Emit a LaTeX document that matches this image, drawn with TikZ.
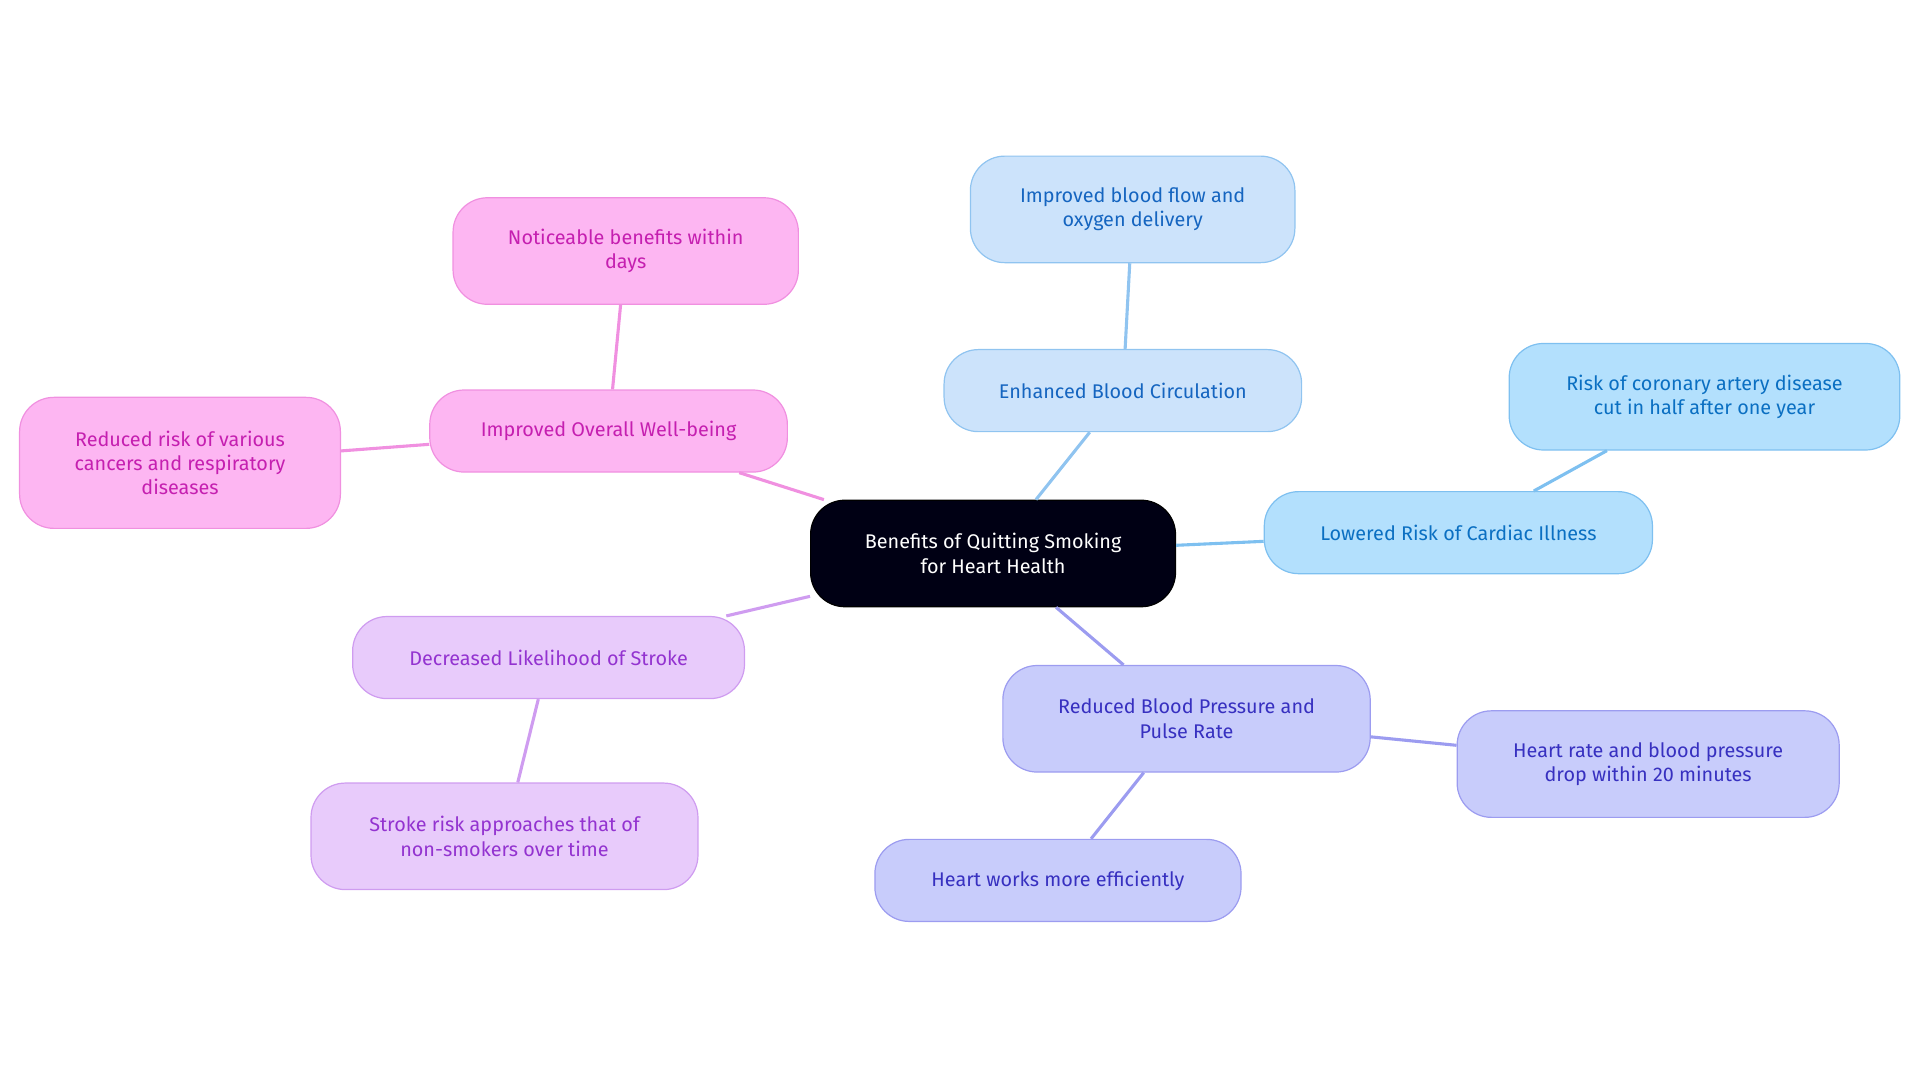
\documentclass[tikz,border=0pt]{standalone}
\usepackage{fontspec}
\setmainfont{Fira Sans}
\begin{document}
\begin{tikzpicture}[x=0.025cm,y=-0.025cm,
  box/.style={rounded corners=0.7cm,draw,line width=0.7pt,align=center,inner sep=0pt,font=\fontsize{11.5}{14.2}\selectfont},
  blueA/.style={box,fill=blueAf,draw=blueAd,text=blueAt},
  blueB/.style={box,fill=blueBf,draw=blueBd,text=blueBt},
  indi/.style={box,fill=indf,draw=indd,text=indt},
  purp/.style={box,fill=purf,draw=purd,text=purt},
  pink/.style={box,fill=pinkf,draw=pinkd,text=pinkt},
  edge/.style={line width=1.8pt}]
\definecolor{blueAf}{HTML}{CCE3FB}\definecolor{blueAd}{HTML}{90C4F0}\definecolor{blueAt}{HTML}{1565C0}
\definecolor{blueBf}{HTML}{B3E0FD}\definecolor{blueBd}{HTML}{7EC0F0}\definecolor{blueBt}{HTML}{0A6FC2}
\definecolor{indf}{HTML}{C8CCFB}\definecolor{indd}{HTML}{9C9CF0}\definecolor{indt}{HTML}{3730C0}
\definecolor{purf}{HTML}{E8CBFB}\definecolor{purd}{HTML}{CF9CF0}\definecolor{purt}{HTML}{9333D0}
\definecolor{pinkf}{HTML}{FDB6F2}\definecolor{pinkd}{HTML}{F090E0}\definecolor{pinkt}{HTML}{C51FB0}
\useasboundingbox (0,0) rectangle (1568,884.4);
\node[box,fill=black!92!blue,draw=black,text=white,minimum width=298*0.025cm,minimum height=87*0.025cm] (c) at (811,452) {Benefits of Quitting Smoking\\for Heart Health};
\node[blueA,minimum width=292*0.025cm,minimum height=67*0.025cm] (e) at (917,319) {Enhanced Blood Circulation};
\node[blueA,minimum width=265*0.025cm,minimum height=87*0.025cm] (e1) at (925,171) {Improved blood flow and\\oxygen delivery};
\node[blueB,minimum width=317*0.025cm,minimum height=67*0.025cm] (l) at (1191,435) {Lowered Risk of Cardiac Illness};
\node[blueB,minimum width=319*0.025cm,minimum height=87*0.025cm] (l1) at (1392,324) {Risk of coronary artery disease\\cut in half after one year};
\node[indi,minimum width=300*0.025cm,minimum height=87*0.025cm] (r) at (969,587) {Reduced Blood Pressure and\\Pulse Rate};
\node[indi,minimum width=312*0.025cm,minimum height=87*0.025cm] (r1) at (1346,624) {Heart rate and blood pressure\\drop within 20 minutes};
\node[indi,minimum width=299*0.025cm,minimum height=67*0.025cm] (r2) at (864,719) {Heart works more efficiently};
\node[purp,minimum width=320*0.025cm,minimum height=67*0.025cm] (d) at (448,537) {Decreased Likelihood of Stroke};
\node[purp,minimum width=316*0.025cm,minimum height=87*0.025cm] (d1) at (412,683) {Stroke risk approaches that of\\non-smokers over time};
\node[pink,minimum width=292*0.025cm,minimum height=67*0.025cm] (i) at (497,352) {Improved Overall Well-being};
\node[pink,minimum width=282*0.025cm,minimum height=87*0.025cm] (i1) at (511,205) {Noticeable benefits within\\days};
\node[pink,minimum width=262*0.025cm,minimum height=107*0.025cm] (i2) at (147,378) {Reduced risk of various\\cancers and respiratory\\diseases};
\draw[edge,blueAd] (c) -- (e); \draw[edge,blueAd] (e) -- (e1);
\draw[edge,blueBd] (c) -- (l); \draw[edge,blueBd] (l) -- (l1);
\draw[edge,indd] (c) -- (r); \draw[edge,indd] (r) -- (r1); \draw[edge,indd] (r) -- (r2);
\draw[edge,purd] (c) -- (d); \draw[edge,purd] (d) -- (d1);
\draw[edge,pinkd] (c) -- (i); \draw[edge,pinkd] (i) -- (i1); \draw[edge,pinkd] (i) -- (i2);
\end{tikzpicture}
\end{document}
